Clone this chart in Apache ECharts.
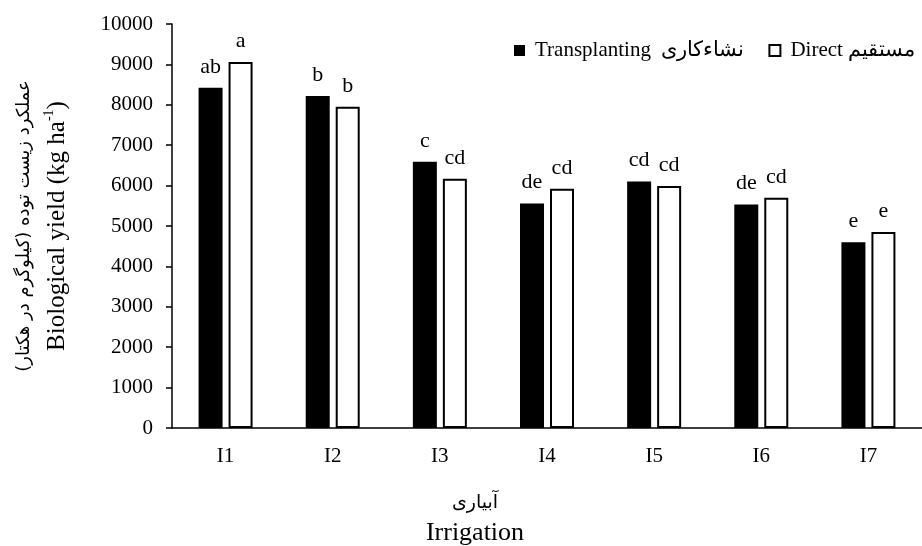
<!DOCTYPE html>
<html>
<head>
    <meta charset="UTF-8"/>
    <script type="text/javascript" src="https://cdn.jsdelivr.net/npm/echarts@6/dist/echarts.min.js"></script>
    <title>biological yield</title>
    <style>
        html, body { margin: 0; padding: 0; background: #fff; }
        #main { width: 922px; height: 546px; }
    </style>
</head>
<body>
<div id="main"></div>
<script>
    // irrigation levels
    var categories = ['I1', 'I2', 'I3', 'I4', 'I5', 'I6', 'I7'];
    // biological yield, kg/ha
    var transplanting = [8420, 8220, 6590, 5560, 6100, 5530, 4600];
    var direct = [9060, 7950, 6170, 5920, 5990, 5700, 4850];
    // mean comparison letters
    var transLetters = ['ab', 'b', 'c', 'de', 'cd', 'de', 'e'];
    var directLetters = ['a', 'b', 'cd', 'cd', 'cd', 'cd', 'e'];
    var yTicks = [0, 1000, 2000, 3000, 4000, 5000, 6000, 7000, 8000, 9000, 10000];

    var serif = "'Liberation Serif', 'Times New Roman', serif";
    var persian = "'DejaVu Sans', sans-serif";

    var chart = echarts.init(document.getElementById('main'));
    var option = {
        backgroundColor: '#fff',
        animation: false,
        grid: { left: 172, top: 24, height: 404, width: 758 },
        legend: {
            left: 509, top: 35,
            itemWidth: 11, itemHeight: 11, itemGap: 24,
            textStyle: { fontFamily: serif, fontSize: 21, color: '#000', padding: [0, 0, 0, 5] },
            data: [
                { name: 'Transplanting  نشاءکاری', icon: 'rect', itemStyle: { color: '#000', borderWidth: 0 } },
                { name: 'Direct مستقیم', icon: 'rect', itemStyle: { color: '#fff', borderColor: '#000', borderWidth: 2 } }
            ]
        },
        xAxis: {
            type: 'category',
            data: categories,
            axisLine: { lineStyle: { color: '#000', width: 1.5 } },
            axisTick: { show: false },
            axisLabel: { fontFamily: serif, fontSize: 21, color: '#000', margin: 18 }
        },
        yAxis: {
            type: 'value',
            min: yTicks[0], max: yTicks[yTicks.length - 1], interval: 1000,
            splitLine: { show: false },
            axisLine: { show: true, lineStyle: { color: '#000', width: 1.5 } },
            axisTick: { show: true, length: 6, lineStyle: { color: '#000', width: 1.5 } },
            axisLabel: {
                fontFamily: serif, fontSize: 21, color: '#000', margin: 19,
                formatter: function (v) { return String(v); }
            },
            name: '{p|\u200Fعملکرد زیست توده (کیلوگرم در هکتار)\u200F}\n{e|Biological yield (kg ha}{s|-1}{e|)}',
            nameLocation: 'middle',
            nameGap: 100,
            nameTextStyle: {
                color: '#000',
                rich: {
                    p: { fontFamily: persian, fontSize: 18, color: '#000', lineHeight: 36 },
                    e: { fontFamily: serif, fontSize: 25, color: '#000', lineHeight: 30 },
                    s: { fontFamily: serif, fontSize: 14, color: '#000', verticalAlign: 'top', lineHeight: 30, padding: [0, 0, 10, 0] }
                }
            }
        },
        graphic: [
            { type: 'text', x: 475, y: 503, style: { text: 'آبیاری', fontFamily: persian, fontSize: 19, fill: '#000', textAlign: 'center', textVerticalAlign: 'middle' } },
            { type: 'text', x: 475, y: 533, style: { text: 'Irrigation', fontFamily: serif, fontSize: 26, fill: '#000', textAlign: 'center', textVerticalAlign: 'middle' } }
        ],
        series: [
            {
                name: 'Transplanting  نشاءکاری',
                type: 'bar',
                data: transplanting,
                barWidth: 24,
                barGap: '25%',
                itemStyle: { color: '#000' },
                label: {
                    show: true, position: 'top', distance: 10,
                    fontFamily: serif, fontSize: 22, color: '#000',
                    formatter: function (p) { return transLetters[p.dataIndex]; }
                }
            },
            {
                name: 'Direct مستقیم',
                type: 'bar',
                data: direct,
                barWidth: 24,
                barGap: '25%',
                itemStyle: { color: '#fff', borderColor: '#000', borderWidth: 2 },
                label: {
                    show: true, position: 'top', distance: 10,
                    fontFamily: serif, fontSize: 22, color: '#000',
                    formatter: function (p) { return directLetters[p.dataIndex]; }
                }
            }
        ]
    };
    chart.setOption(option);
</script>
</body>
</html>
